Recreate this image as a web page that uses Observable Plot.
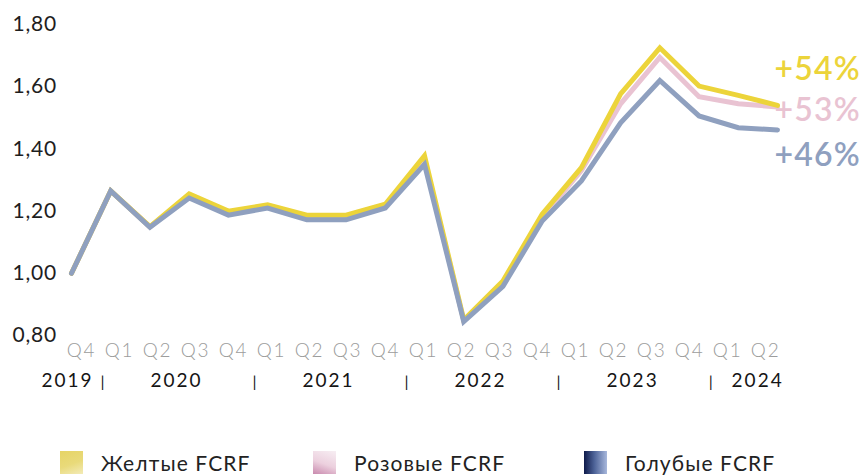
<!DOCTYPE html>
<html>
<head>
<meta charset="utf-8">
<script src="https://cdn.jsdelivr.net/npm/d3@7"></script>
<script src="https://cdn.jsdelivr.net/npm/@observablehq/plot@0.6"></script>
<style>
  html, body { margin: 0; padding: 0; background: #fff; }
  #chart { position: relative; width: 868px; height: 475px; overflow: hidden; }
  .legend { position: absolute; top: 450px; left: 0; width: 868px; height: 25px; font-family: Lato, sans-serif; font-size: 21px; color: #222; letter-spacing: 1.1px; }
  .item { position: absolute; top: 0; display: flex; align-items: center; height: 25px; }
  .sw { width: 23px; height: 23px; margin-right: 18px; }
</style>
</head>
<body>
<div id="chart"></div>
<script>
// ---- data ----
const quarters = ["Q4","Q1","Q2","Q3","Q4","Q1","Q2","Q3","Q4","Q1","Q2","Q3","Q4","Q1","Q2","Q3","Q4","Q1","Q2"];
const quarterYear = [2019,2020,2020,2020,2020,2021,2021,2021,2021,2022,2022,2022,2022,2023,2023,2023,2023,2024,2024];
const years = ["2019","2020","2021","2022","2023","2024"];
const yellow = [1.00,1.265,1.150,1.255,1.200,1.220,1.187,1.187,1.222,1.378,0.850,0.975,1.190,1.340,1.577,1.725,1.602,1.572,1.540];
const pink   = [1.00,1.265,1.149,1.250,1.194,1.215,1.180,1.180,1.216,1.365,0.848,0.966,1.180,1.330,1.545,1.694,1.568,1.545,1.535];
const blue   = [1.00,1.265,1.148,1.242,1.187,1.210,1.172,1.172,1.210,1.350,0.845,0.958,1.168,1.297,1.484,1.620,1.506,1.468,1.461];
const seriesNames = ["Желтые FCRF","Розовые FCRF","Голубые FCRF"];
const endLabels = ["+54%","+53%","+46%"];
const yTicks = [0.8,1.0,1.2,1.4,1.6,1.8];

const colors = {yellow: "#ecd43a", pink: "#e9c3d2", blue: "#8fa0bf"};

const rows = (arr, name) => arr.map((v, i) => ({i, v, name}));
const dY = rows(yellow, "yellow"), dP = rows(pink, "pink"), dB = rows(blue, "blue");

// quarter label positions are slightly compressed relative to the data points
const lab = i => 0.23 + i * 0.969;
const qData = quarters.map((q, i) => ({q, i}));
const yearData = years.map((y, k) => {
  const idx = quarterYear.map((yy, i) => yy === +y ? i : -1).filter(i => i >= 0);
  return {y, x: lab(d3.mean(idx)), k};
});
const seps = years.slice(1).map(y => ({x: lab(quarterYear.indexOf(+y) - 0.5)}));

const lineOpts = {x: "i", y: "v", strokeWidth: 5, strokeLinejoin: "miter", strokeMiterlimit: 10};
const yearStyle = {x: "x", text: "y", frameAnchor: "bottom", dy: 51, fontSize: 19, fill: "#151515"};
const pctStyle = {x: "i", y: "v", textAnchor: "start", dx: -3, fontSize: 32, fontWeight: 600};

const plot = Plot.plot({
  width: 868,
  height: 448,
  marginTop: 24,
  marginBottom: 113,
  marginLeft: 71,
  marginRight: 91,
  x: {type: "linear", domain: [0, 18], axis: null},
  y: {domain: [0.8, 1.8], axis: null},
  style: {fontFamily: "Lato, sans-serif", background: "#fff", overflow: "visible"},
  marks: [
    Plot.text(yTicks, {x: 0, y: d => d, text: d => d.toFixed(2).replace(".", ","), textAnchor: "start", dx: -59, fontSize: 21, fill: "#1e1e1e"}),
    Plot.line(dP, {...lineOpts, stroke: colors.pink}),
    Plot.line(dY, {...lineOpts, stroke: colors.yellow}),
    Plot.line(dB, {...lineOpts, stroke: colors.blue}),
    Plot.text(qData, {x: d => lab(d.i), text: "q", frameAnchor: "bottom", dy: 21, dx: 1, fontSize: 19, fontWeight: 300, fill: "#9c9c9c"}),
    Plot.text(yearData.filter(d => d.k > 0 && d.k < years.length - 1), {...yearStyle, dx: 1}),
    Plot.text(yearData.slice(0, 1), {...yearStyle, dx: -13}),
    Plot.text(yearData.slice(-1), {...yearStyle, dx: 12}),
    Plot.text(seps, {x: "x", text: () => "|", frameAnchor: "bottom", dy: 51, dx: 3, fontSize: 16, fill: "#151515"}),
    Plot.text(dY.slice(-1), {...pctStyle, text: () => endLabels[0], dy: -36, fill: colors.yellow}),
    Plot.text(dP.slice(-1), {...pctStyle, text: () => endLabels[1], dy: 4, fill: colors.pink}),
    Plot.text(dB.slice(-1), {...pctStyle, text: () => endLabels[2], dy: 26, fill: colors.blue})
  ]
});
// letter spacing per text mark (in mark order)
const spacing = [0.8, 1.8, 2, 2, 2, 0, 1.2, 1.2, 1.2];
plot.querySelectorAll('g[aria-label="text"]').forEach((g, k) => {
  if (spacing[k]) g.style.letterSpacing = spacing[k] + "px";
});
const chart = document.getElementById("chart");
chart.appendChild(plot);

const swatches = [
  "linear-gradient(160deg, #e6d466 0%, #e9da7a 55%, #f3ebb8 100%)",
  "linear-gradient(20deg, #c98aae 0%, #ecd0de 45%, #f7eef3 100%)",
  "linear-gradient(90deg, #0e1a4a 0%, #4d6398 45%, #a8b8dc 100%)"
];
const lefts = [60, 313, 584];
const legend = document.createElement("div");
legend.className = "legend";
seriesNames.forEach((n, k) => {
  const it = document.createElement("div");
  it.className = "item";
  it.style.left = lefts[k] + "px";
  const sw = document.createElement("div");
  sw.className = "sw";
  sw.style.background = swatches[k];
  const t = document.createElement("span");
  t.textContent = n;
  it.appendChild(sw); it.appendChild(t);
  legend.appendChild(it);
});
chart.appendChild(legend);
</script>
</body>
</html>
